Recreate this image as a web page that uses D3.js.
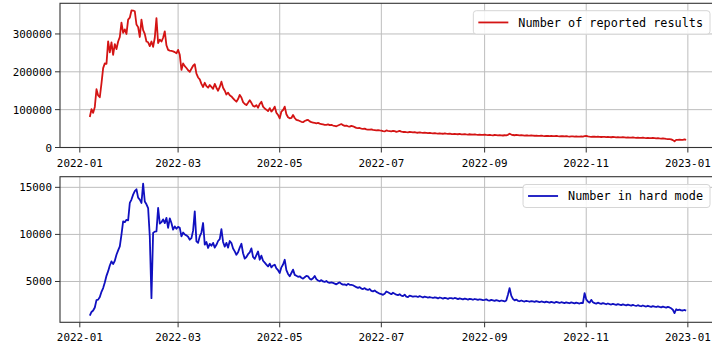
<!DOCTYPE html>
<html>
<head>
<meta charset="utf-8">
<script src="https://cdn.jsdelivr.net/npm/d3@7"></script>
<style>
  body { margin: 0; background: #fff; }
  svg { display: block; }
</style>
</head>
<body>
<svg id="chart" width="712" height="347"></svg>
<script>
// daily values, first day 2022-01-07, last day 2022-12-31
const startDate = "2022-01-07";

const reported = [
  80630, 101503, 91477, 107134, 153880, 137586, 132726, 169484, 209609, 222197, 220950, 280622, 251571, 277471, 244585, 273127, 260165, 280000, 292000, 330000, 303000, 312000, 300000, 338000, 343000,
  362000, 361908, 360000, 325000, 318000, 292000, 338000, 310000, 300000, 280000, 278000, 268000, 280000, 266000, 290000, 342000, 276000, 285000, 280000, 290000, 307000, 270000, 258000, 256000, 255000, 254000, 252000, 249000,
  258000, 245000, 205000, 222000, 215000, 210000, 204000, 200000, 208000, 216000, 220000, 195000, 185000, 180000, 168000, 160000, 171000, 162000, 158000, 165000, 160000, 155000, 168000, 158000, 150000, 160000, 174000, 158000, 150000, 140000, 145000,
  138000, 135000, 130000, 125000, 121000, 128000, 139000, 132000, 120000, 115000, 112000, 118000, 125000, 118000, 110000, 108000, 112000, 105000, 115000, 121000, 108000, 103000, 100000, 96000, 104000, 95000, 100000, 108000, 92000, 86000,
  77000, 95000, 99000, 108000, 88000, 80000, 77000, 78000, 86000, 78000, 73000, 72000, 70000, 68000, 67000, 70000, 72000, 73000, 69000, 67000, 66000, 65000, 64000, 65000, 63000, 62000, 61000, 60000, 60000, 61000, 59000,
  60000, 58000, 57000, 56000, 58000, 60000, 62000, 59000, 57000, 58000, 56000, 55000, 57000, 56000, 54000, 52000, 51000, 51500, 50000, 49000, 50000, 48000, 47000, 47500, 48000, 46500, 46000, 45500, 46000, 45000,
  44500, 43000, 42500, 45000, 44000, 43500, 42800, 44000, 43000, 41500, 42500, 43800, 42000, 41000, 41500, 40800, 40200, 41200, 40500, 39800, 40600, 39500, 39000, 40000, 39200, 38500, 39400, 38800, 38200, 38900, 38000,
  37500, 38200, 37400, 36800, 37600, 36900, 36300, 37200, 36500, 36000, 36800, 35700, 35300, 36200, 35600, 35000, 35800, 34900, 34500, 35300, 34700, 34200, 35000, 34300, 33800, 34600, 33900, 33500, 34200, 33600, 33200,
  33800, 33100, 32700, 33400, 32800, 32300, 33000, 32500, 32000, 32700, 32100, 31700, 32400, 31800, 33500, 36500, 34200, 33000, 32400, 33100, 32500, 32000, 32600, 32100, 31600, 32300, 31700, 31300, 31900, 31400,
  31000, 31600, 30900, 30500, 31200, 30700, 30300, 30900, 30400, 30000, 30600, 30100, 29800, 30400, 29900, 29500, 30100, 29700, 29300, 29900, 29400, 29000, 29600, 29200, 28800, 29400, 28900, 28500, 29100, 28700, 29800,
  30500, 29200, 28600, 28300, 28900, 28400, 28000, 28600, 28100, 27700, 28300, 27800, 27400, 28000, 27500, 27100, 27700, 27200, 26800, 27400, 26900, 26500, 27100, 26600, 26200, 26800, 26300, 25900, 26500, 26000,
  25600, 26200, 25700, 25300, 25900, 25400, 25000, 25500, 25000, 24600, 25200, 24700, 24200, 24800, 24200, 23700, 24300, 23600, 22900, 22400, 22000, 21500, 19500, 16500, 20300, 20217, 20879, 20160, 20001, 21204, 20380
];

const hardMode = [
  1362, 1763, 1913, 2242, 3017, 3073, 3345, 3900, 4300, 4900, 5600, 6100, 6700, 7130, 6850, 7200, 7840, 8300, 8720, 9970, 11380, 11300, 11550, 11500, 13340,
  13700, 14225, 14600, 14800, 13900, 13700, 13340, 15400, 13500, 13200, 12800, 9790, 3235, 10160, 10300, 10320, 12810, 11140, 11300, 11600, 11200, 11760, 10700, 11700, 11210, 10500, 10850, 10600,
  10800, 10700, 9790, 10200, 10000, 9900, 9750, 9440, 9600, 10400, 12450, 9260, 9100, 9790, 10200, 11210, 8910, 9200, 8560, 9000, 8800, 9100, 8600, 8900, 9300, 9500, 10570, 9200, 8700, 9100, 8600,
  9300, 9080, 8500, 8200, 7840, 8100, 8600, 9010, 8000, 7430, 7600, 7900, 8100, 8510, 7600, 7400, 7800, 8190, 7310, 7740, 7200, 7000, 6800, 6600, 6900, 6500, 6700, 6780, 6400, 6200,
  5900, 6500, 6800, 7310, 6200, 5800, 5550, 5900, 6260, 5700, 5600, 5500, 5550, 5400, 5300, 5450, 5600, 5550, 5300, 5200, 5350, 5580, 5250, 5100, 5020, 5150, 5000, 4950, 5050, 4900, 4850,
  4900, 4850, 4780, 4700, 4820, 4900, 4750, 4670, 4700, 4600, 4750, 4650, 4650, 4600, 4500, 4400, 4320, 4400, 4250, 4200, 4300, 4150, 4100, 4200, 4000, 3950, 4050, 3900, 3800, 3700,
  3650, 3585, 3700, 3940, 3850, 3750, 3650, 3800, 3700, 3600, 3550, 3650, 3500, 3450, 3600, 3400, 3350, 3500, 3450, 3380, 3420, 3410, 3350, 3450, 3380, 3300, 3400, 3350, 3280, 3350, 3300,
  3250, 3320, 3280, 3200, 3300, 3250, 3180, 3260, 3220, 3150, 3240, 3230, 3170, 3250, 3200, 3130, 3210, 3160, 3100, 3180, 3140, 3080, 3160, 3120, 3060, 3140, 3090, 3040, 3110, 3070, 3020,
  3053, 3100, 3000, 2960, 3040, 2990, 2940, 3020, 2970, 2900, 2980, 2930, 2880, 2980, 3600, 4300, 3500, 3150, 3000, 3080, 2950, 2900, 2980, 2920, 2870, 2950, 2900, 2850, 2920, 2880,
  2840, 2920, 2860, 2800, 2880, 2830, 2780, 2860, 2810, 2760, 2840, 2790, 2740, 2830, 2780, 2720, 2800, 2760, 2700, 2790, 2740, 2690, 2780, 2730, 2680, 2760, 2710, 2660, 2740, 2700, 3770,
  3100, 2880, 2750, 3050, 2800, 2700, 2650, 2750, 2680, 2620, 2700, 2640, 2580, 2660, 2600, 2550, 2630, 2570, 2520, 2600, 2540, 2490, 2570, 2510, 2460, 2540, 2480, 2430, 2510, 2450,
  2400, 2480, 2420, 2370, 2450, 2390, 2340, 2420, 2360, 2310, 2390, 2340, 2290, 2360, 2300, 2250, 2330, 2270, 2220, 2300, 2240, 2150, 2000, 1640, 2050, 1950, 2012, 1937, 1919, 1973, 1899
];

const xTickLabels = ["2022-01", "2022-03", "2022-05", "2022-07", "2022-09", "2022-11", "2023-01"];
const topTicks = [0, 100000, 200000, 300000];
const bottomTicks = [5000, 10000, 15000];
const topLegend = "Number of reported results";
const bottomLegend = "Number in hard mode";

const FONT = "'DejaVu Sans Mono', 'Liberation Mono', monospace";
const TICK_SIZE = 10.9;  // ~6.55px per char
const LEG_SIZE = 11.8;   // ~7.1px per char

var svg = d3.select("#chart");

var day0 = d3.timeParse("%Y-%m-%d")(startDate);
var dates = reported.map((v, i) => d3.timeDay.offset(day0, i));
var first = dates[0], last = dates[dates.length - 1];
var pad = (last - first) * 0.05;

var x = d3.scaleTime()
  .domain([new Date(+first - pad), new Date(+last + pad)])
  .range([60, 716]);

var tickDates = xTickLabels.map(d3.timeParse("%Y-%m"));

function drawPanel(opt) {
  var y = d3.scaleLinear().domain(opt.yDomain).range([opt.bottom, opt.top]);
  var g = svg.append("g");

  // grid
  g.selectAll(".vgrid").data(tickDates).enter().append("line")
    .attr("x1", d => x(d)).attr("x2", d => x(d))
    .attr("y1", opt.top).attr("y2", opt.bottom)
    .attr("stroke", "#bdbdbd").attr("stroke-width", 1);
  g.selectAll(".hgrid").data(opt.ticks).enter().append("line")
    .attr("x1", 60).attr("x2", 716)
    .attr("y1", d => y(d)).attr("y2", d => y(d))
    .attr("stroke", "#bdbdbd").attr("stroke-width", 1);

  // series
  var line = d3.line()
    .x((d, i) => x(dates[i]))
    .y(d => y(d));
  g.append("path")
    .datum(opt.values)
    .attr("fill", "none")
    .attr("stroke", opt.color)
    .attr("stroke-width", 1.8)
    .attr("stroke-linejoin", "round")
    .attr("d", line);

  // spines
  g.append("rect")
    .attr("x", 60).attr("y", opt.top)
    .attr("width", 656).attr("height", opt.bottom - opt.top)
    .attr("fill", "none").attr("stroke", "#333").attr("stroke-width", 1.1);

  // y ticks
  g.selectAll(".ytick").data(opt.ticks).enter().append("line")
    .attr("x1", 55).attr("x2", 60)
    .attr("y1", d => y(d)).attr("y2", d => y(d))
    .attr("stroke", "#333");
  g.selectAll(".ylab").data(opt.ticks).enter().append("text")
    .attr("x", 52).attr("y", d => y(d) + 4)
    .attr("text-anchor", "end")
    .attr("font-family", FONT).attr("font-size", TICK_SIZE).attr("fill", "#000")
    .text(d => d);

  // x ticks
  g.selectAll(".xtick").data(tickDates).enter().append("line")
    .attr("x1", d => x(d)).attr("x2", d => x(d))
    .attr("y1", opt.bottom).attr("y2", opt.bottom + 5)
    .attr("stroke", "#333");
  g.selectAll(".xlab").data(xTickLabels).enter().append("text")
    .attr("x", (d, i) => x(tickDates[i]))
    .attr("y", opt.bottom + 19)
    .attr("text-anchor", "middle")
    .attr("font-family", FONT).attr("font-size", TICK_SIZE).attr("fill", "#000")
    .text(d => d);

  // legend
  var lg = opt.legend;
  var right = 710;
  var textEnd = 703;
  var t = g.append("text")
    .attr("x", textEnd).attr("y", lg.top + lg.h / 2 + 4.2)
    .attr("text-anchor", "end")
    .attr("font-family", FONT).attr("font-size", LEG_SIZE).attr("fill", "#000")
    .text(opt.label);
  var textX = textEnd - t.node().getComputedTextLength();
  g.insert("rect", "text:last-child")
    .attr("x", textX - 45).attr("y", lg.top)
    .attr("width", right - (textX - 45)).attr("height", lg.h)
    .attr("rx", 3)
    .attr("fill", "#fff").attr("fill-opacity", 0.85)
    .attr("stroke", "#d6d6d6");
  g.append("line")
    .attr("x1", textX - 40).attr("x2", textX - 10)
    .attr("y1", lg.top + lg.h / 2).attr("y2", lg.top + lg.h / 2)
    .attr("stroke", opt.color).attr("stroke-width", 1.8);
}

drawPanel({
  values: reported, color: "#d41414",
  yDomain: [0, 381000], top: 3.3, bottom: 147.5,
  ticks: topTicks, label: topLegend,
  legend: { top: 10.7, h: 23.5 }
});

drawPanel({
  values: hardMode, color: "#1010c0",
  yDomain: [665, 16130], top: 176.7, bottom: 322.3,
  ticks: bottomTicks, label: bottomLegend,
  legend: { top: 184.5, h: 23 }
});
</script>
</body>
</html>
